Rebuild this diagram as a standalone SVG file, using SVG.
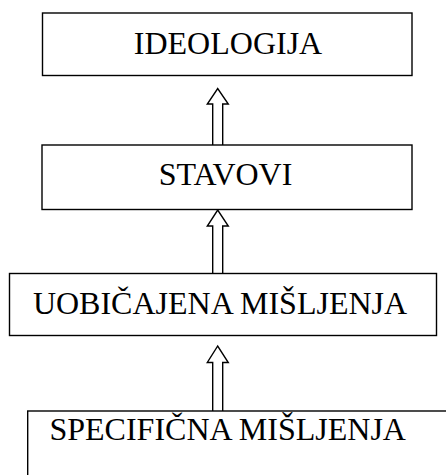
<svg xmlns="http://www.w3.org/2000/svg" width="446" height="475" viewBox="0 0 446 475">
<style>
.box{fill:#fff;stroke:#000;stroke-width:1.4}
.lbl{font-family:"Liberation Serif","Times New Roman",serif;font-size:32px;fill:#000;text-anchor:middle}
.arr{fill:#fff;stroke:#000;stroke-width:1.4;stroke-linejoin:miter}
</style>
<rect width="446" height="475" fill="#fff"/>
<g id="connectors">
<path class="arr" d="M212.7,145 V104 H207.3 L217.7,88.5 L228.3,104 H222.7 V145"/>
<path class="arr" d="M212.7,273.5 V226 H207.3 L217.7,210 L228.3,226 H222.7 V273.5"/>
<path class="arr" d="M212.7,411 V362.5 H207.3 L217.7,346 L228.3,362.5 H222.7 V411"/>
</g>
<g id="ideologija">
<rect class="box" x="42.5" y="13" width="369.5" height="62.5"/>
<text class="lbl" x="228" y="53.5">IDEOLOGIJA</text>
</g>
<g id="stavovi">
<rect class="box" x="42" y="145" width="370" height="64.5"/>
<text class="lbl" x="225.5" y="185">STAVOVI</text>
</g>
<g id="uobicajena">
<rect class="box" x="9.5" y="273.5" width="427" height="62"/>
<text class="lbl" x="220" y="314.3">UOBIČAJENA MIŠLJENJA</text>
</g>
<g id="specificna">
<rect class="box" x="27.7" y="411" width="430" height="80"/>
<text class="lbl" x="227.7" y="439.5">SPECIFIČNA MIŠLJENJA</text>
</g>
</svg>
